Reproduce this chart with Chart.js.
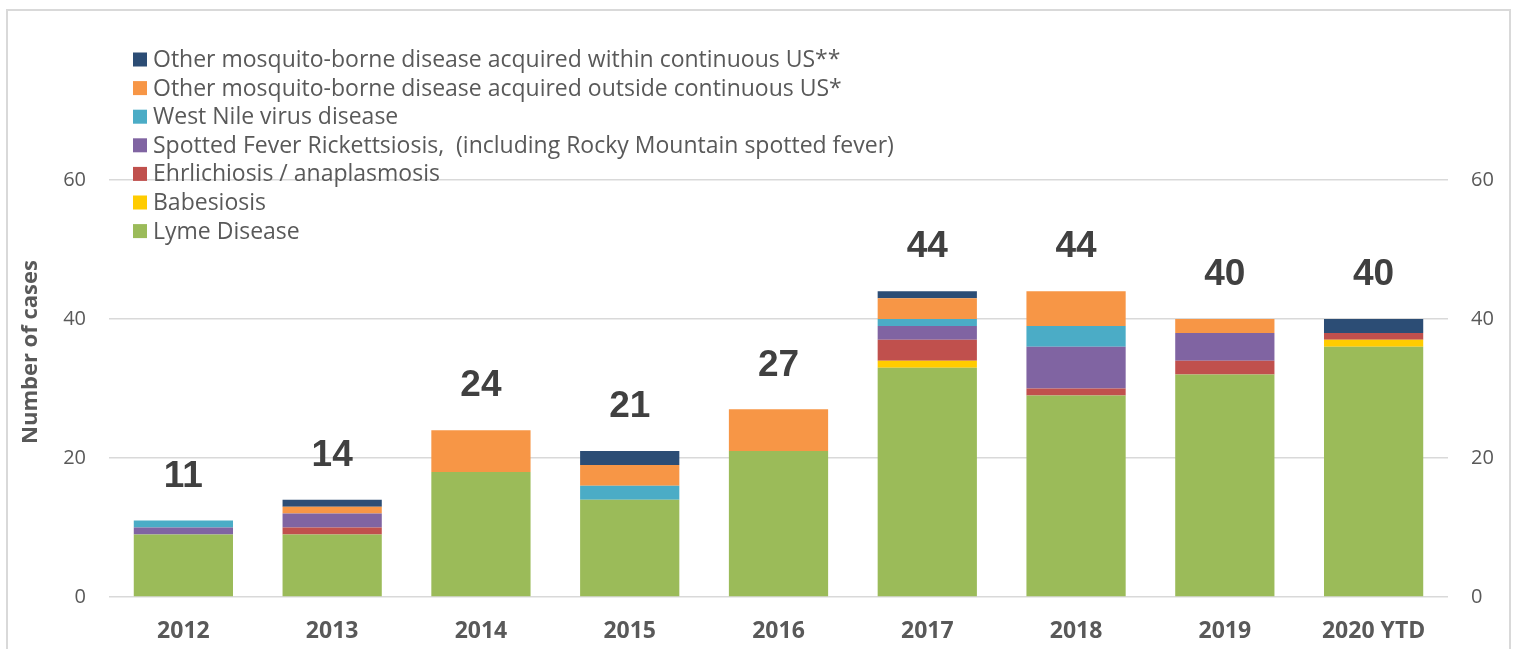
<!DOCTYPE html>
<html>
<head>
<meta charset="utf-8">
<script src="https://cdn.jsdelivr.net/npm/chart.js@4"></script>
<style>
  html, body { margin: 0; padding: 0; background: #fff; overflow: hidden; }
  #frame { position: absolute; left: 6px; top: 9px; width: 1505px; height: 660px; border: 2px solid #d9d9d9; box-sizing: border-box; }
  #wrap { position: absolute; left: 0; top: 0; width: 1515px; height: 649px; }
</style>
</head>
<body>
<div id="frame"></div>
<div id="wrap"><canvas id="chart" width="1515" height="649"></canvas></div>
<script>
const years = ['2012', '2013', '2014', '2015', '2016', '2017', '2018', '2019', '2020 YTD'];

// stacked bottom to top
const lyme       = [9, 9, 18, 14, 21, 33, 29, 32, 36];
const babesiosis = [0, 0, 0, 0, 0, 1, 0, 0, 1];
const ehrlichia  = [0, 1, 0, 0, 0, 3, 1, 2, 1];
const spotted    = [1, 2, 0, 0, 0, 2, 6, 4, 0];
const westNile   = [1, 0, 0, 2, 0, 1, 3, 0, 0];
const outsideUS  = [0, 1, 6, 3, 6, 3, 5, 2, 0];
const withinUS   = [0, 1, 0, 2, 0, 1, 0, 0, 2];

const yTicks = [0, 20, 40, 60];
const yTitle = 'Number of cases';

const seriesNames = [
    'Lyme Disease',
    'Babesiosis',
    'Ehrlichiosis / anaplasmosis',
    'Spotted Fever Rickettsiosis,  (including Rocky Mountain spotted fever)',
    'West Nile virus disease',
    'Other mosquito-borne disease acquired outside continuous US*',
    'Other mosquito-borne disease acquired within continuous US**'
];
const seriesColors = ['#9bbb59', '#ffcc00', '#c0504d', '#8064a2', '#4bacc6', '#f79646', '#2c4d75'];
const seriesValues = [lyme, babesiosis, ehrlichia, spotted, westNile, outsideUS, withinUS];

const datasets = seriesNames.map((name, i) => ({
    label: name,
    data: seriesValues[i],
    backgroundColor: seriesColors[i],
    borderWidth: 0,
    barPercentage: 0.667,
    categoryPercentage: 1
}));

// legend drawn inside the plot, one item per line, top series first
const legendPlugin = {
    id: 'sideLegend',
    afterDraw(chart) {
        const ctx = chart.ctx;
        ctx.save();
        ctx.font = '23px "Open Sans"';
        ctx.textBaseline = 'middle';
        const items = chart.data.datasets.slice().reverse();
        items.forEach((ds, i) => {
            const y = 59.5 + i * 28.6;
            ctx.fillStyle = ds.backgroundColor;
            ctx.fillRect(133, y - 7, 14, 14);
            ctx.fillStyle = '#595959';
            ctx.fillText(ds.label, 153, y + 1);
        });
        ctx.restore();
    }
};

// y title sits a bit above the middle of the axis in the original
const titlePlugin = {
    id: 'yTitle',
    afterDraw(chart) {
        const ctx = chart.ctx;
        ctx.save();
        ctx.translate(31, 352);
        ctx.rotate(-Math.PI / 2);
        ctx.font = 'bold 22px "Open Sans"';
        ctx.fillStyle = '#595959';
        ctx.textAlign = 'center';
        ctx.textBaseline = 'middle';
        ctx.fillText(yTitle, 0, 0);
        ctx.restore();
    }
};

// totals above each bar
const totalsPlugin = {
    id: 'totals',
    afterDatasetsDraw(chart) {
        const ctx = chart.ctx;
        const yScale = chart.scales.y;
        const xScale = chart.scales.x;
        ctx.save();
        ctx.font = 'bold 37px "Liberation Sans"';
        ctx.fillStyle = '#404040';
        ctx.textAlign = 'center';
        ctx.textBaseline = 'middle';
        years.forEach((yr, i) => {
            let total = 0;
            seriesValues.forEach(s => total += s[i]);
            const x = xScale.getPixelForValue(i);
            const y = yScale.getPixelForValue(total) - 44;
            ctx.fillText(String(total), x, y);
        });
        ctx.restore();
    }
};

const tickFont = { family: '"Open Sans"', size: 20 };

new Chart(document.getElementById('chart'), {
    type: 'bar',
    data: { labels: years, datasets: datasets },
    options: {
        responsive: false,
        animation: false,
        layout: { padding: { top: 180, left: 0, right: 0, bottom: 0 } },
        plugins: {
            legend: { display: false },
            tooltip: { enabled: false }
        },
        scales: {
            x: {
                stacked: true,
                grid: { display: false, drawTicks: false },
                border: { display: false },
                ticks: { color: '#595959', font: { family: '"Open Sans"', size: 23, weight: 'bold' }, padding: 21, maxRotation: 0 },
                afterFit: (s) => { s.height = 52; }
            },
            y: {
                stacked: true,
                min: 0,
                max: 60,
                afterBuildTicks: (s) => { s.ticks = yTicks.map(v => ({ value: v })); },
                grid: { color: '#d9d9d9', lineWidth: 1.5, drawTicks: false },
                border: { display: false },
                ticks: { color: '#595959', font: tickFont, padding: 23 },
                afterFit: (s) => { s.width = 109; }
            },
            y2: {
                position: 'right',
                min: 0,
                max: 60,
                afterBuildTicks: (s) => { s.ticks = yTicks.map(v => ({ value: v })); },
                grid: { display: false, drawTicks: false },
                border: { display: false },
                ticks: { color: '#595959', font: tickFont, padding: 23 },
                afterFit: (s) => { s.width = 67; }
            }
        }
    },
    plugins: [legendPlugin, titlePlugin, totalsPlugin]
});
</script>
</body>
</html>
